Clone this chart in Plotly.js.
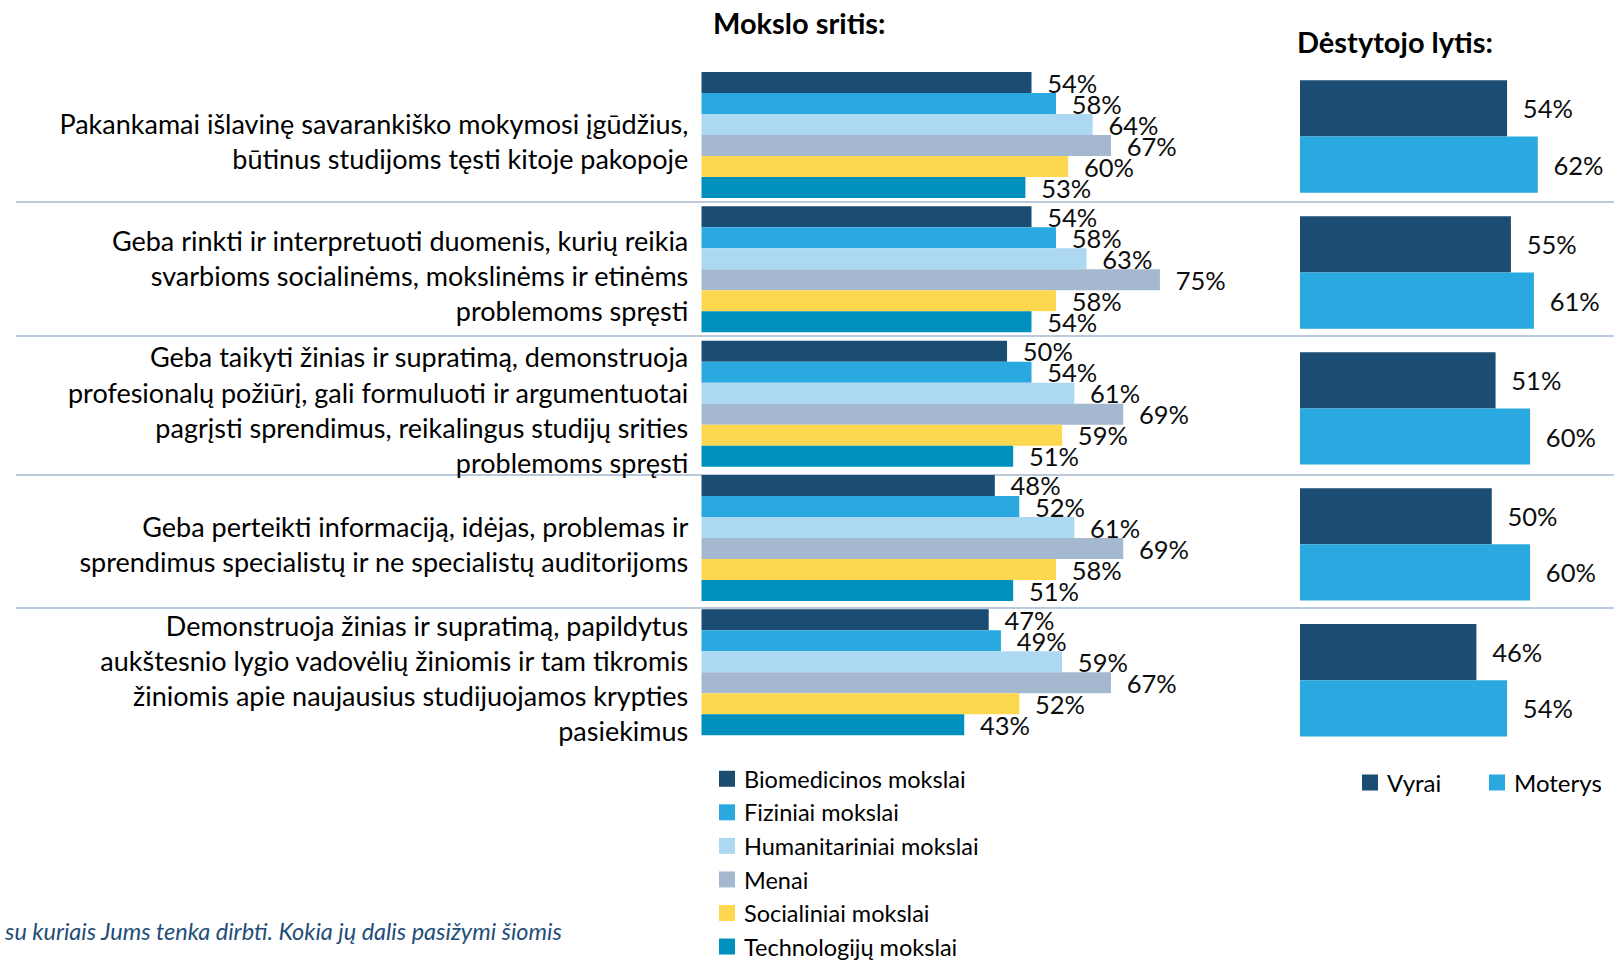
<!DOCTYPE html>
<html>
<head>
<meta charset="utf-8">
<script src="https://cdn.plot.ly/plotly-3.0.1.min.js"></script>
<style>html,body{margin:0;padding:0;background:#fff;overflow:hidden;}#chart{width:1617px;height:960px;}</style>
</head>
<body>
<div id="chart"></div>
<script>
// ---- data ----
const categories = [
  'Pakankamai išlavinę savarankiško mokymosi įgūdžius,<br>būtinus studijoms tęsti kitoje pakopoje',
  'Geba rinkti ir interpretuoti duomenis, kurių reikia<br>svarbioms socialinėms, mokslinėms ir etinėms<br>problemoms spręsti',
  'Geba taikyti žinias ir supratimą, demonstruoja<br>profesionalų požiūrį, gali formuluoti ir argumentuotai<br>pagrįsti sprendimus, reikalingus studijų srities<br>problemoms spręsti',
  'Geba perteikti informaciją, idėjas, problemas ir<br>sprendimus specialistų ir ne specialistų auditorijoms',
  'Demonstruoja žinias ir supratimą, papildytus<br>aukštesnio lygio vadovėlių žiniomis ir tam tikromis<br>žiniomis apie naujausius studijuojamos krypties<br>pasiekimus'
];
const fieldNames = ['Biomedicinos mokslai', 'Fiziniai mokslai', 'Humanitariniai mokslai', 'Menai', 'Socialiniai mokslai', 'Technologijų mokslai'];
const biomedicina = [54, 54, 50, 48, 47];
const fiziniai = [58, 58, 54, 52, 49];
const humanitariniai = [64, 63, 61, 61, 59];
const menai = [67, 75, 69, 69, 67];
const socialiniai = [60, 58, 59, 58, 52];
const technologijos = [53, 54, 51, 51, 43];

const genderNames = ['Vyrai', 'Moterys'];
const vyrai = [54, 55, 51, 50, 46];
const moterys = [62, 61, 60, 60, 54];

const panelTitles = ['Mokslo sritis:', 'Dėstytojo lytis:'];
const footnote = 'su kuriais Jums tenka dirbti. Kokia jų dalis pasižymi šiomis';

// ---- styles ----
const fieldColors = ['#1B4D72', '#29A9E0', '#ADD8F1', '#A4B9CF', '#FDD84F', '#0090BE'];
const genderColors = ['#1B4D72', '#29A9E0'];
const FONT = 'Lato, "Open Sans", sans-serif';
const labelFont = {family: FONT, size: 25.5, color: '#0D0D0D'};

const fieldSeries = [biomedicina, fiziniai, humanitariniai, menai, socialiniai, technologijos];
const traces = [];
fieldSeries.forEach((vals, i) => {
  traces.push({
    type: 'bar', orientation: 'h',
    name: fieldNames[i],
    x: vals, y: categories,
    xaxis: 'x', yaxis: 'y',
    marker: {color: fieldColors[i]},
    texttemplate: '\u2002%{x}%',
    textposition: 'outside',
    constraintext: 'none',
    cliponaxis: false,
    textfont: labelFont, outsidetextfont: labelFont,
    hoverinfo: 'skip',
    legend: 'legend'
  });
});
[vyrai, moterys].forEach((vals, i) => {
  traces.push({
    type: 'bar', orientation: 'h',
    name: genderNames[i],
    x: vals, y: categories,
    xaxis: 'x2', yaxis: 'y2',
    width: 0.4134,
    offset: i === 0 ? -0.4134 : 0,
    marker: {color: genderColors[i]},
    texttemplate: '\u2002%{x}%',
    textposition: 'outside',
    constraintext: 'none',
    cliponaxis: false,
    textfont: labelFont, outsidetextfont: labelFont,
    hoverinfo: 'skip',
    legend: 'legend2'
  });
});

const W = 1617, H = 960;
const px = v => v / W, py = v => 1 - v / H;
const sepLines = [202, 336, 475, 608].map(y => ({
  type: 'line', xref: 'paper', yref: 'paper',
  x0: px(16), x1: px(1614), y0: py(y), y1: py(y),
  line: {color: '#BACADB', width: 2}, layer: 'below'
}));

const layout = {
  width: W, height: H,
  margin: {l: 0, r: 0, t: 0, b: 0, pad: 0, autoexpand: false},
  paper_bgcolor: '#fff', plot_bgcolor: 'rgba(0,0,0,0)',
  font: {family: FONT, color: '#000'},
  barmode: 'group', bargap: 0.0618, bargroupgap: 0,
  xaxis: {domain: [px(701.3), px(1251.65)], range: [0, 90], showgrid: false, zeroline: false, showticklabels: false, showline: false, fixedrange: true},
  yaxis: {domain: [py(739.5), py(67.85)], type: 'category', autorange: 'reversed', showgrid: false, zeroline: false, showline: false, ticks: '',
          ticklabelstandoff: 12, ticklabelshift: -7, tickfont: {family: FONT, size: 27, color: '#000'}, fixedrange: true},
  xaxis2: {domain: [px(1300), px(1606.8)], range: [0, 80], anchor: 'y2', showgrid: false, zeroline: false, showticklabels: false, showline: false, fixedrange: true},
  yaxis2: {domain: [py(748.3), py(68.5)], anchor: 'x2', type: 'category', autorange: 'reversed', showgrid: false, zeroline: false, showline: false, showticklabels: false, ticks: '', fixedrange: true},
  legend: {x: px(704), xanchor: 'left', y: py(757), yanchor: 'top', orientation: 'v', traceorder: 'normal',
           font: {family: FONT, size: 23.5, color: '#000'}, bgcolor: 'rgba(0,0,0,0)', borderwidth: 0},
  legend2: {x: px(1347), xanchor: 'left', y: py(783), yanchor: 'middle', orientation: 'h', traceorder: 'normal',
            entrywidth: 82, entrywidthmode: 'pixels',
            font: {family: FONT, size: 24, color: '#000'}, bgcolor: 'rgba(0,0,0,0)', borderwidth: 0},
  shapes: sepLines,
  annotations: [
    {text: panelTitles[0], xref: 'paper', yref: 'paper', x: px(711), y: py(23), xanchor: 'left', yanchor: 'middle', showarrow: false,
     font: {family: FONT, size: 29, weight: 700, color: '#000'}},
    {text: panelTitles[1], xref: 'paper', yref: 'paper', x: px(1295), y: py(41), xanchor: 'left', yanchor: 'middle', showarrow: false,
     font: {family: FONT, size: 29, weight: 700, color: '#000'}},
    {text: footnote, xref: 'paper', yref: 'paper', x: px(2), y: py(931), xanchor: 'left', yanchor: 'middle', showarrow: false,
     font: {family: FONT, size: 23.5, style: 'italic', color: '#1F4E79'}}
  ],
  showlegend: true
};

Plotly.newPlot('chart', traces, layout, {displayModeBar: false, staticPlot: true}).then(gd => {
  // enlarge the legend swatches to the reference's 16px squares
  gd.querySelectorAll('.legendpoints path').forEach(p => {
    p.setAttribute('transform', 'translate(23,0) scale(1.333)');
  });
});
</script>
</body>
</html>
